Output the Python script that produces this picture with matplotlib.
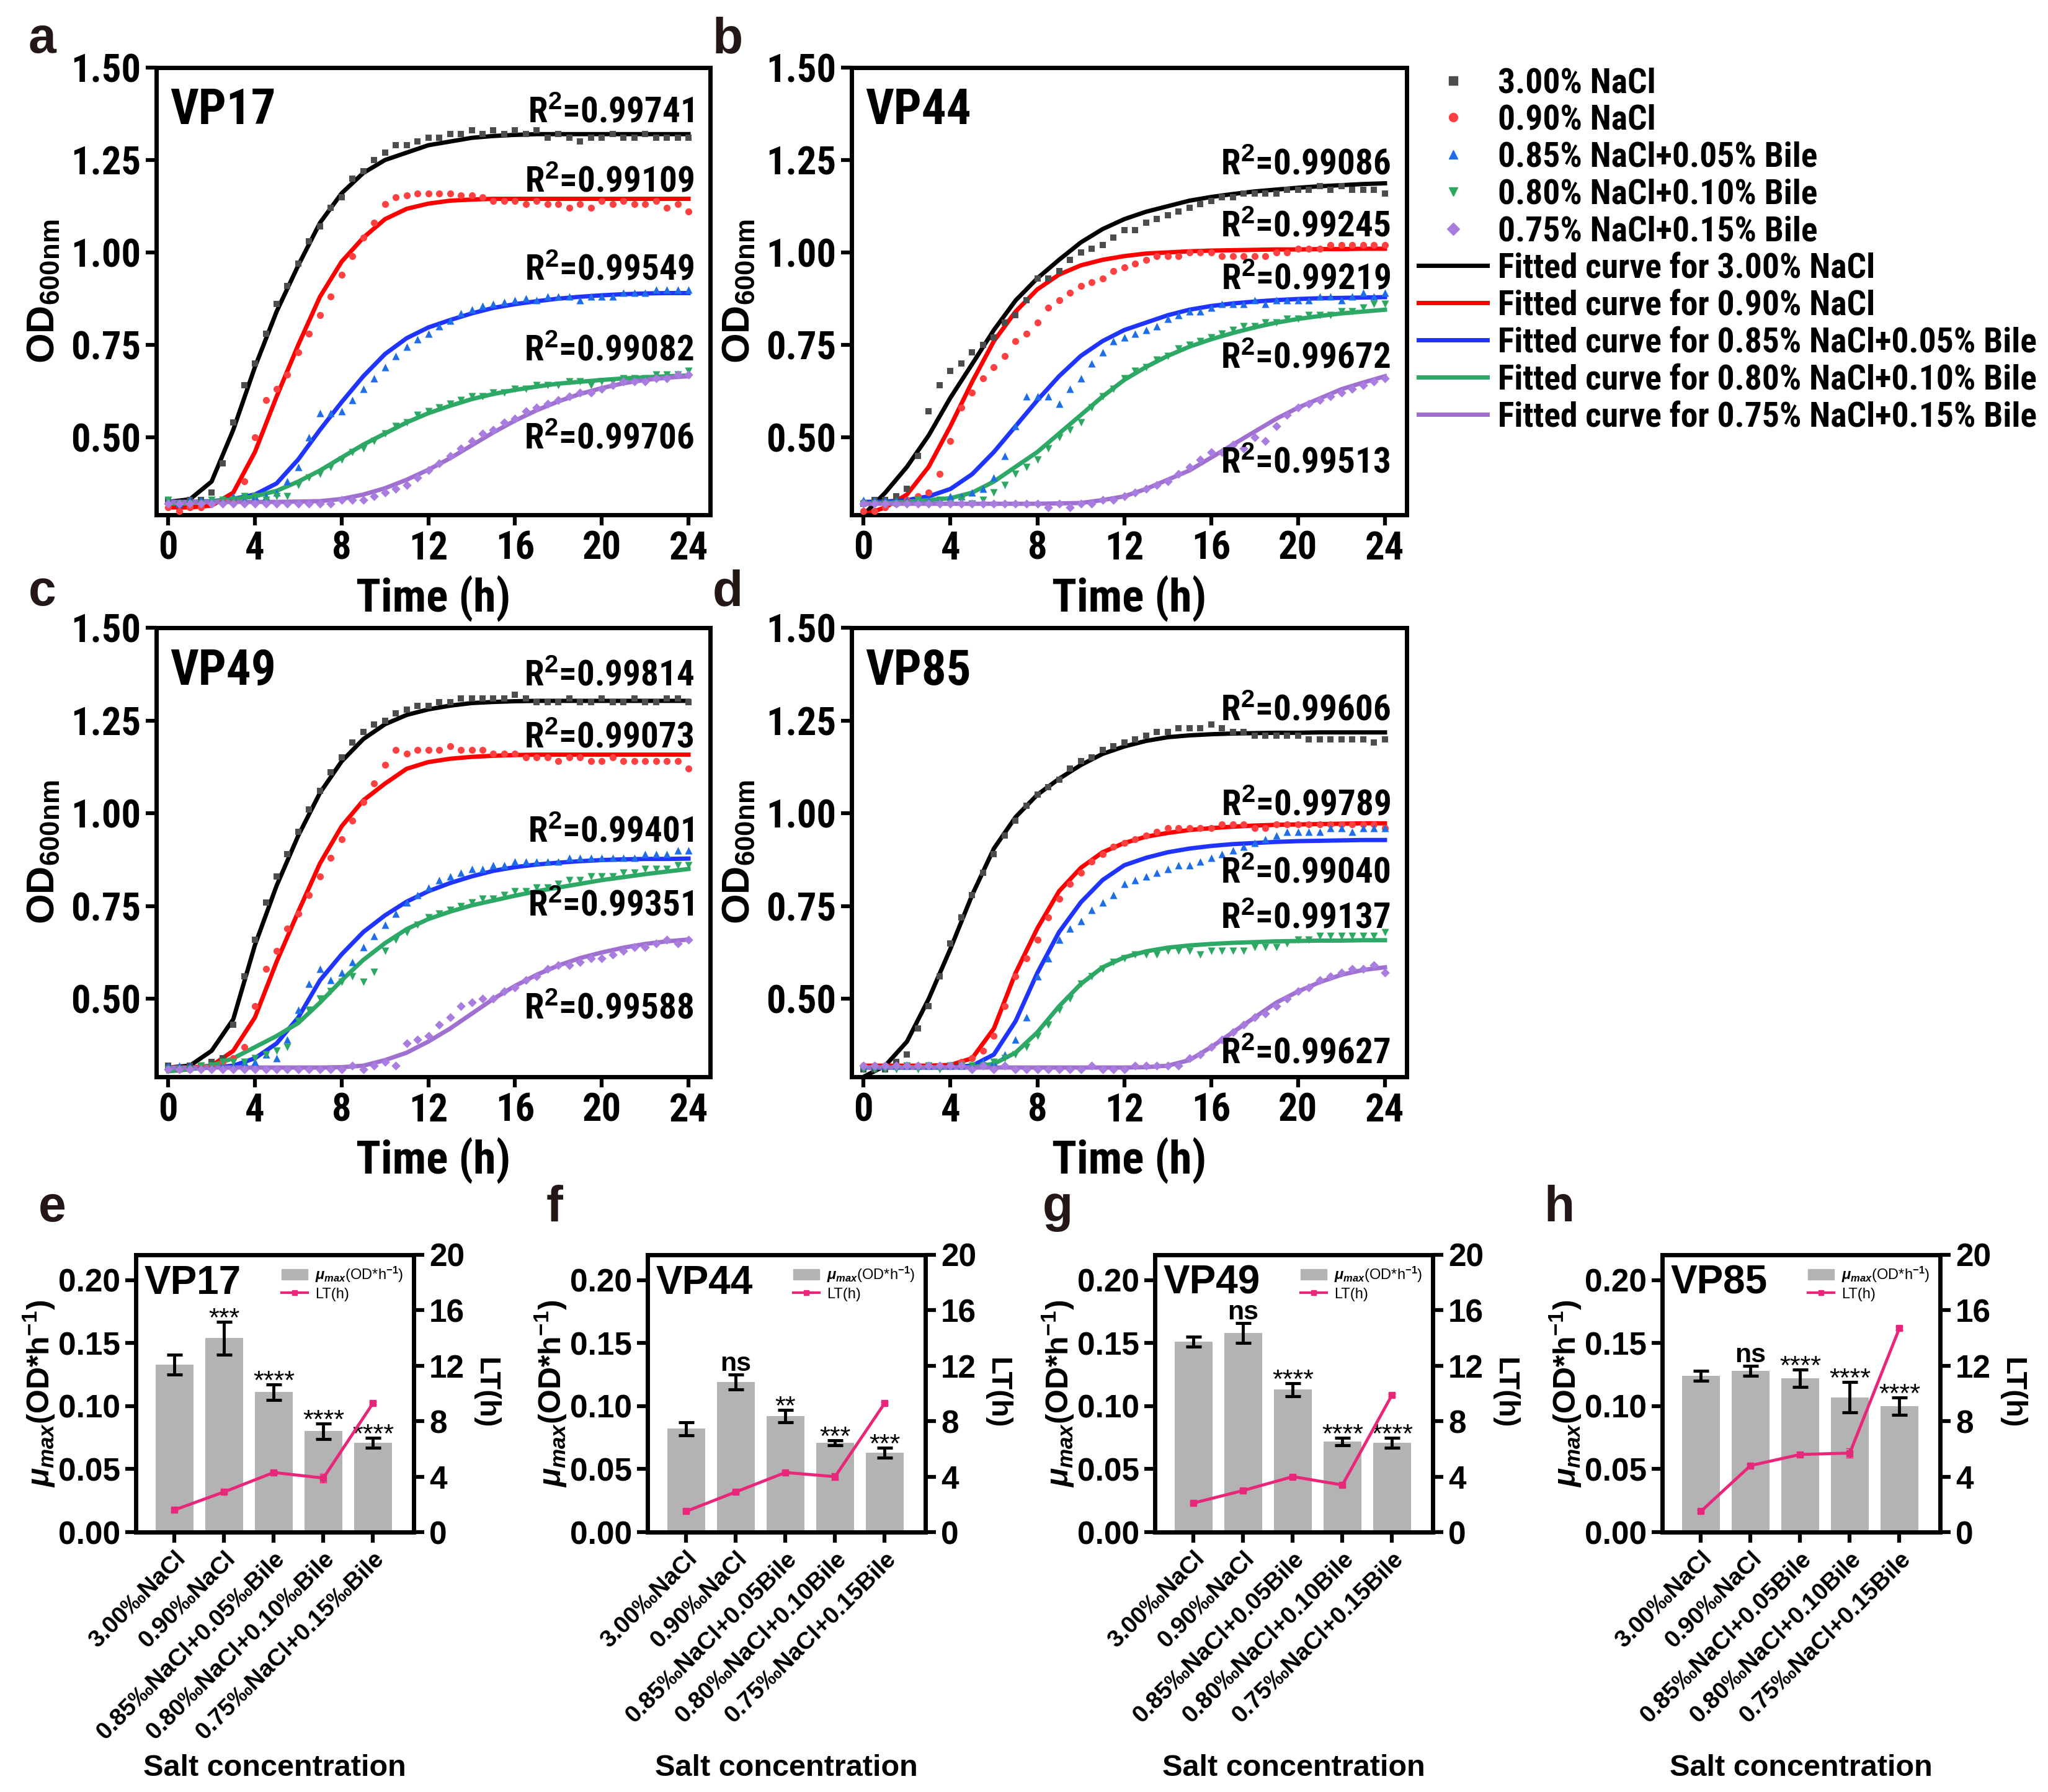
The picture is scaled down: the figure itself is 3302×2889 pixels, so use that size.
import numpy as np
import matplotlib
matplotlib.use('Agg')
import matplotlib.pyplot as plt
from matplotlib import font_manager
from matplotlib.font_manager import FontProperties
from matplotlib.lines import Line2D
from matplotlib.patches import Patch

# ---------------- growth curves (OD600) ----------------
t_fit = list(range(25))               # fitted curves, every hour
t_obs = np.arange(0, 24.5, 0.5)       # measured points, every 30 min

# VP17
vp17_fit_300 = [0.325, 0.332, 0.38, 0.52, 0.69, 0.84, 0.965, 1.08, 1.16, 1.215,
                1.25, 1.27, 1.29, 1.30, 1.31, 1.315, 1.318, 1.32, 1.32, 1.32,
                1.32, 1.32, 1.32, 1.32, 1.32]
vp17_fit_090 = [0.31, 0.31, 0.315, 0.35, 0.46, 0.61, 0.75, 0.88, 0.975, 1.04,
                1.09, 1.118, 1.132, 1.14, 1.143, 1.145, 1.145, 1.145, 1.145, 1.145,
                1.145, 1.145, 1.145, 1.145, 1.145]
vp17_fit_b05 = [0.325, 0.325, 0.327, 0.333, 0.345, 0.375, 0.44, 0.52, 0.595, 0.665,
                0.725, 0.768, 0.797, 0.817, 0.835, 0.85, 0.86, 0.868, 0.875, 0.88,
                0.884, 0.887, 0.889, 0.89, 0.89]
vp17_fit_b10 = [0.32, 0.322, 0.326, 0.332, 0.34, 0.355, 0.38, 0.41, 0.445, 0.48,
                0.51, 0.54, 0.565, 0.585, 0.603, 0.617, 0.628, 0.637, 0.645, 0.65,
                0.655, 0.659, 0.662, 0.665, 0.667]
vp17_fit_b15 = [0.325, 0.325, 0.325, 0.325, 0.325, 0.325, 0.326, 0.327, 0.333, 0.345,
                0.362, 0.385, 0.412, 0.443, 0.478, 0.513, 0.545, 0.573, 0.597, 0.617,
                0.633, 0.646, 0.655, 0.661, 0.665]
vp17_obs_300 = [0.33, 0.32, 0.33, 0.33, 0.35, 0.43, 0.54, 0.64, 0.70, 0.78,
                0.86, 0.91, 0.97, 1.03, 1.07, 1.12, 1.15, 1.20, 1.22, 1.25,
                1.27, 1.29, 1.29, 1.30, 1.31, 1.31, 1.32, 1.32, 1.33, 1.32,
                1.33, 1.32, 1.33, 1.32, 1.33, 1.31, 1.32, 1.31, 1.30, 1.31,
                1.31, 1.32, 1.31, 1.31, 1.32, 1.31, 1.31, 1.31, 1.31]
vp17_obs_090 = [0.31, 0.30, 0.31, 0.31, 0.32, 0.33, 0.33, 0.38, 0.50, 0.60,
                0.63, 0.67, 0.73, 0.78, 0.83, 0.88, 0.94, 0.99, 1.04, 1.08,
                1.13, 1.15, 1.155, 1.16, 1.16, 1.16, 1.16, 1.155, 1.155, 1.15,
                1.14, 1.14, 1.14, 1.13, 1.14, 1.13, 1.13, 1.12, 1.13, 1.12,
                1.14, 1.13, 1.14, 1.13, 1.13, 1.14, 1.12, 1.13, 1.11]
vp17_obs_b05 = [0.33, 0.32, 0.33, 0.33, 0.33, 0.33, 0.34, 0.33, 0.34, 0.34,
                0.35, 0.38, 0.42, 0.50, 0.565, 0.565, 0.57, 0.60, 0.63, 0.66,
                0.69, 0.72, 0.745, 0.765, 0.78, 0.80, 0.815, 0.835, 0.845, 0.855,
                0.86, 0.865, 0.87, 0.875, 0.87, 0.88, 0.88, 0.88, 0.87, 0.88,
                0.88, 0.88, 0.89, 0.89, 0.89, 0.90, 0.90, 0.90, 0.90]
vp17_obs_b10 = [0.33, 0.32, 0.32, 0.32, 0.33, 0.33, 0.33, 0.34, 0.34, 0.33,
                0.34, 0.34, 0.37, 0.39, 0.40, 0.42, 0.44, 0.46, 0.47, 0.49,
                0.51, 0.53, 0.54, 0.56, 0.57, 0.58, 0.59, 0.60, 0.61, 0.61,
                0.62, 0.62, 0.63, 0.63, 0.64, 0.64, 0.64, 0.65, 0.65, 0.64,
                0.65, 0.65, 0.66, 0.66, 0.66, 0.67, 0.67, 0.67, 0.68]
vp17_obs_b15 = [0.32, 0.32, 0.32, 0.32, 0.32, 0.32, 0.32, 0.32, 0.32, 0.32,
                0.32, 0.32, 0.32, 0.32, 0.32, 0.32, 0.33, 0.33, 0.33, 0.34,
                0.35, 0.36, 0.37, 0.39, 0.41, 0.43, 0.45, 0.47, 0.49, 0.51,
                0.52, 0.54, 0.55, 0.57, 0.58, 0.59, 0.60, 0.61, 0.62, 0.62,
                0.63, 0.64, 0.65, 0.65, 0.65, 0.66, 0.66, 0.67, 0.67]

# VP44
vp44_fit_300 = [0.29, 0.35, 0.42, 0.505, 0.607, 0.698, 0.79, 0.87, 0.93, 0.98,
                1.027, 1.063, 1.09, 1.11, 1.125, 1.14, 1.15, 1.158, 1.165, 1.17,
                1.175, 1.179, 1.182, 1.185, 1.187]
vp44_fit_090 = [0.29, 0.31, 0.345, 0.42, 0.53, 0.65, 0.76, 0.84, 0.90, 0.94,
                0.965, 0.98, 0.99, 0.997, 1.0, 1.003, 1.005, 1.006, 1.007, 1.008,
                1.008, 1.009, 1.009, 1.01, 1.01]
vp44_fit_b05 = [0.325, 0.326, 0.33, 0.34, 0.36, 0.40, 0.46, 0.53, 0.60, 0.665,
                0.72, 0.76, 0.79, 0.81, 0.83, 0.845, 0.855, 0.862, 0.867, 0.871,
                0.874, 0.876, 0.877, 0.878, 0.879]
vp44_fit_b10 = [0.32, 0.322, 0.325, 0.33, 0.335, 0.35, 0.38, 0.42, 0.46, 0.51,
                0.56, 0.61, 0.655, 0.69, 0.72, 0.745, 0.765, 0.782, 0.797, 0.81,
                0.82, 0.828, 0.835, 0.84, 0.845]
vp44_fit_b15 = [0.32, 0.32, 0.32, 0.32, 0.32, 0.32, 0.32, 0.32, 0.32, 0.321,
                0.322, 0.33, 0.34, 0.36, 0.385, 0.41, 0.445, 0.48, 0.515, 0.55,
                0.58, 0.605, 0.63, 0.648, 0.665]
vp44_obs_300 = [0.32, 0.33, 0.33, 0.34, 0.36, 0.45, 0.57, 0.64, 0.68, 0.70,
                0.73, 0.75, 0.77, 0.81, 0.83, 0.87, 0.93, 0.93, 0.95, 0.98,
                1.00, 1.01, 1.02, 1.04, 1.06, 1.06, 1.08, 1.09, 1.10, 1.11,
                1.12, 1.13, 1.14, 1.15, 1.15, 1.16, 1.16, 1.16, 1.16, 1.17,
                1.17, 1.17, 1.18, 1.17, 1.18, 1.17, 1.17, 1.17, 1.16]
vp44_obs_090 = [0.30, 0.30, 0.31, 0.32, 0.33, 0.34, 0.35, 0.40, 0.49, 0.58,
                0.62, 0.66, 0.69, 0.72, 0.76, 0.78, 0.81, 0.85, 0.87, 0.89,
                0.91, 0.92, 0.93, 0.95, 0.96, 0.97, 0.98, 0.99, 0.99, 0.99,
                1.00, 1.00, 1.00, 0.99, 0.99, 0.99, 0.99, 0.99, 1.00, 1.00,
                1.01, 1.01, 1.01, 1.02, 1.02, 1.02, 1.02, 1.02, 1.02]
vp44_obs_b05 = [0.33, 0.33, 0.33, 0.33, 0.33, 0.33, 0.33, 0.33, 0.34, 0.34,
                0.35, 0.36, 0.39, 0.45, 0.53, 0.61, 0.61, 0.61, 0.59, 0.63,
                0.66, 0.70, 0.73, 0.76, 0.77, 0.78, 0.79, 0.80, 0.82, 0.83,
                0.84, 0.84, 0.85, 0.86, 0.86, 0.86, 0.87, 0.86, 0.87, 0.87,
                0.87, 0.87, 0.88, 0.88, 0.87, 0.88, 0.89, 0.88, 0.89]
vp44_obs_b10 = [0.32, 0.32, 0.32, 0.32, 0.32, 0.33, 0.32, 0.33, 0.32, 0.33,
                0.32, 0.33, 0.35, 0.37, 0.40, 0.42, 0.44, 0.47, 0.50, 0.52,
                0.54, 0.58, 0.61, 0.63, 0.66, 0.68, 0.69, 0.71, 0.72, 0.74,
                0.75, 0.76, 0.77, 0.78, 0.79, 0.80, 0.80, 0.81, 0.81, 0.82,
                0.82, 0.83, 0.83, 0.83, 0.84, 0.84, 0.85, 0.86, 0.86]
vp44_obs_b15 = [0.32, 0.32, 0.32, 0.32, 0.32, 0.32, 0.32, 0.32, 0.32, 0.32,
                0.32, 0.32, 0.32, 0.32, 0.32, 0.32, 0.32, 0.31, 0.32, 0.31,
                0.32, 0.32, 0.33, 0.33, 0.34, 0.35, 0.36, 0.37, 0.38, 0.40,
                0.42, 0.44, 0.46, 0.46, 0.48, 0.47, 0.50, 0.49, 0.53, 0.56,
                0.58, 0.59, 0.60, 0.61, 0.62, 0.63, 0.64, 0.65, 0.66]

# VP49
vp49_fit_300 = [0.315, 0.32, 0.36, 0.445, 0.645, 0.805, 0.94, 1.055, 1.14, 1.20,
                1.24, 1.265, 1.28, 1.29, 1.297, 1.30, 1.302, 1.303, 1.303, 1.303,
                1.303, 1.303, 1.303, 1.303, 1.303]
vp49_fit_090 = [0.315, 0.315, 0.32, 0.36, 0.45, 0.60, 0.735, 0.865, 0.965, 1.035,
                1.08, 1.12, 1.138, 1.147, 1.152, 1.155, 1.157, 1.158, 1.158, 1.158,
                1.158, 1.158, 1.158, 1.158, 1.158]
vp49_fit_b05 = [0.31, 0.312, 0.315, 0.32, 0.34, 0.38, 0.45, 0.55, 0.62, 0.68,
                0.725, 0.762, 0.79, 0.812, 0.83, 0.845, 0.855, 0.862, 0.867, 0.871,
                0.874, 0.876, 0.877, 0.877, 0.878]
vp49_fit_b10 = [0.305, 0.31, 0.32, 0.34, 0.37, 0.40, 0.435, 0.49, 0.55, 0.605,
                0.65, 0.688, 0.715, 0.735, 0.752, 0.765, 0.778, 0.79, 0.80, 0.81,
                0.82, 0.828, 0.836, 0.843, 0.85]
vp49_fit_b15 = [0.315, 0.315, 0.315, 0.315, 0.315, 0.315, 0.315, 0.315, 0.316, 0.32,
                0.335, 0.355, 0.385, 0.42, 0.46, 0.50, 0.535, 0.565, 0.59, 0.61,
                0.625, 0.638, 0.648, 0.655, 0.66]
vp49_obs_300 = [0.32, 0.31, 0.32, 0.32, 0.33, 0.34, 0.43, 0.56, 0.66, 0.76,
                0.83, 0.89, 0.95, 1.01, 1.06, 1.11, 1.15, 1.19, 1.22, 1.24,
                1.25, 1.27, 1.28, 1.29, 1.29, 1.30, 1.30, 1.31, 1.31, 1.31,
                1.31, 1.31, 1.32, 1.31, 1.30, 1.30, 1.30, 1.31, 1.30, 1.30,
                1.31, 1.30, 1.30, 1.31, 1.30, 1.30, 1.31, 1.31, 1.30]
vp49_obs_090 = [0.31, 0.31, 0.31, 0.32, 0.32, 0.33, 0.34, 0.37, 0.48, 0.58,
                0.63, 0.69, 0.73, 0.78, 0.83, 0.88, 0.93, 0.98, 1.03, 1.08,
                1.13, 1.17, 1.16, 1.17, 1.17, 1.17, 1.18, 1.17, 1.17, 1.17,
                1.16, 1.16, 1.16, 1.15, 1.15, 1.15, 1.14, 1.15, 1.15, 1.14,
                1.14, 1.15, 1.14, 1.14, 1.14, 1.14, 1.14, 1.14, 1.12]
vp49_obs_b05 = [0.32, 0.32, 0.32, 0.32, 0.32, 0.32, 0.32, 0.33, 0.33, 0.35,
                0.34, 0.39, 0.47, 0.54, 0.58, 0.55, 0.57, 0.60, 0.64, 0.67,
                0.70, 0.73, 0.76, 0.78, 0.80, 0.82, 0.83, 0.84, 0.85, 0.85,
                0.86, 0.86, 0.87, 0.87, 0.87, 0.87, 0.87, 0.88, 0.88, 0.88,
                0.88, 0.88, 0.88, 0.88, 0.89, 0.89, 0.89, 0.90, 0.90]
vp49_obs_b10 = [0.31, 0.31, 0.31, 0.32, 0.32, 0.33, 0.33, 0.33, 0.34, 0.35,
                0.36, 0.37, 0.44, 0.47, 0.50, 0.52, 0.545, 0.56, 0.545, 0.573,
                0.63, 0.66, 0.68, 0.70, 0.72, 0.73, 0.74, 0.75, 0.76, 0.77,
                0.77, 0.78, 0.79, 0.79, 0.80, 0.80, 0.81, 0.82, 0.82, 0.83,
                0.83, 0.83, 0.84, 0.84, 0.85, 0.85, 0.85, 0.86, 0.86]
vp49_obs_b15 = [0.31, 0.31, 0.31, 0.31, 0.31, 0.31, 0.31, 0.31, 0.31, 0.31,
                0.31, 0.31, 0.31, 0.31, 0.31, 0.31, 0.31, 0.32, 0.31, 0.32,
                0.33, 0.32, 0.38, 0.39, 0.40, 0.43, 0.45, 0.48, 0.49, 0.50,
                0.50, 0.52, 0.53, 0.55, 0.56, 0.58, 0.59, 0.59, 0.60, 0.61,
                0.61, 0.62, 0.63, 0.64, 0.64, 0.65, 0.66, 0.65, 0.66]

# VP85
vp85_fit_300 = [0.29, 0.32, 0.385, 0.50, 0.635, 0.78, 0.905, 0.99, 1.05, 1.093,
                1.13, 1.16, 1.18, 1.195, 1.205, 1.21, 1.213, 1.215, 1.216, 1.217,
                1.217, 1.218, 1.218, 1.218, 1.218]
vp85_fit_090 = [0.32, 0.32, 0.32, 0.32, 0.322, 0.34, 0.42, 0.57, 0.69, 0.79,
                0.853, 0.895, 0.92, 0.937, 0.947, 0.955, 0.96, 0.964, 0.967, 0.969,
                0.97, 0.971, 0.972, 0.973, 0.973]
vp85_fit_b05 = [0.315, 0.315, 0.315, 0.315, 0.316, 0.32, 0.35, 0.44, 0.57, 0.68,
                0.76, 0.82, 0.86, 0.88, 0.895, 0.905, 0.912, 0.917, 0.92, 0.923,
                0.925, 0.926, 0.927, 0.928, 0.928]
vp85_fit_b10 = [0.315, 0.315, 0.315, 0.315, 0.315, 0.316, 0.325, 0.355, 0.41, 0.48,
                0.54, 0.585, 0.612, 0.628, 0.638, 0.644, 0.648, 0.651, 0.653, 0.655,
                0.656, 0.657, 0.657, 0.658, 0.658]
vp85_fit_b15 = [0.315, 0.315, 0.315, 0.315, 0.315, 0.315, 0.315, 0.315, 0.315, 0.315,
                0.315, 0.315, 0.315, 0.316, 0.32, 0.335, 0.37, 0.41, 0.45, 0.49,
                0.52, 0.545, 0.565, 0.578, 0.585]
vp85_obs_300 = [0.31, 0.31, 0.31, 0.33, 0.35, 0.42, 0.48, 0.56, 0.65, 0.72,
                0.78, 0.84, 0.89, 0.94, 0.98, 1.02, 1.05, 1.07, 1.09, 1.12,
                1.14, 1.15, 1.17, 1.18, 1.19, 1.20, 1.21, 1.22, 1.22, 1.23,
                1.23, 1.23, 1.24, 1.23, 1.22, 1.22, 1.21, 1.21, 1.21, 1.21,
                1.21, 1.20, 1.20, 1.20, 1.20, 1.20, 1.20, 1.19, 1.20]
vp85_obs_090 = [0.32, 0.32, 0.32, 0.32, 0.32, 0.32, 0.32, 0.32, 0.32, 0.33,
                0.34, 0.36, 0.40, 0.48, 0.56, 0.61, 0.66, 0.72, 0.77, 0.81,
                0.84, 0.87, 0.89, 0.91, 0.92, 0.93, 0.94, 0.95, 0.96, 0.96,
                0.96, 0.96, 0.96, 0.97, 0.97, 0.97, 0.96, 0.96, 0.97, 0.97,
                0.97, 0.97, 0.97, 0.97, 0.97, 0.97, 0.97, 0.97, 0.96]
vp85_obs_b05 = [0.32, 0.32, 0.32, 0.32, 0.32, 0.32, 0.32, 0.32, 0.32, 0.32,
                0.32, 0.33, 0.33, 0.35, 0.39, 0.45, 0.56, 0.61, 0.66, 0.69,
                0.71, 0.74, 0.76, 0.78, 0.81, 0.82, 0.83, 0.84, 0.85, 0.86,
                0.86, 0.87, 0.88, 0.89, 0.90, 0.91, 0.92, 0.93, 0.94, 0.95,
                0.95, 0.95, 0.95, 0.96, 0.96, 0.95, 0.96, 0.96, 0.96]
vp85_obs_b10 = [0.31, 0.31, 0.31, 0.31, 0.32, 0.31, 0.32, 0.31, 0.32, 0.32,
                0.32, 0.32, 0.33, 0.34, 0.35, 0.37, 0.40, 0.43, 0.47, 0.50,
                0.54, 0.56, 0.58, 0.60, 0.61, 0.62, 0.62, 0.62, 0.63, 0.63,
                0.63, 0.62, 0.63, 0.63, 0.63, 0.63, 0.64, 0.64, 0.64, 0.65,
                0.66, 0.66, 0.67, 0.67, 0.67, 0.67, 0.67, 0.67, 0.68]
vp85_obs_b15 = [0.32, 0.32, 0.32, 0.32, 0.32, 0.32, 0.32, 0.32, 0.32, 0.32,
                0.31, 0.32, 0.31, 0.32, 0.31, 0.31, 0.31, 0.31, 0.31, 0.31,
                0.31, 0.32, 0.31, 0.31, 0.31, 0.32, 0.32, 0.32, 0.32, 0.32,
                0.34, 0.35, 0.37, 0.39, 0.41, 0.43, 0.45, 0.46, 0.48, 0.50,
                0.52, 0.53, 0.55, 0.56, 0.57, 0.58, 0.58, 0.59, 0.57]

r2_vp17 = ['0.99741', '0.99109', '0.99549', '0.99082', '0.99706']
r2_vp44 = ['0.99086', '0.99245', '0.99219', '0.99672', '0.99513']
r2_vp49 = ['0.99814', '0.99073', '0.99401', '0.99351', '0.99588']
r2_vp85 = ['0.99606', '0.99789', '0.99040', '0.99137', '0.99627']

conditions = ['3.00% NaCl', '0.90% NaCl', '0.85% NaCl+0.05% Bile',
              '0.80% NaCl+0.10% Bile', '0.75% NaCl+0.15% Bile']

# ---------------- growth parameters (bars) ----------------
cats_e = ['3.00‰NaCl', '0.90‰NaCl', '0.85‰NaCl+0.05‰Bile',
          '0.80‰NaCl+0.10‰Bile', '0.75‰NaCl+0.15‰Bile']
cats_fgh = ['3.00‰NaCl', '0.90‰NaCl', '0.85‰NaCl+0.05Bile',
            '0.80‰NaCl+0.10Bile', '0.75‰NaCl+0.15Bile']

mu_vp17 = [0.133, 0.154, 0.111, 0.080, 0.071]
mu_err_vp17 = [0.008, 0.013, 0.006, 0.006, 0.004]
lt_vp17 = [1.6, 2.9, 4.3, 3.9, 9.3]
lt_err_vp17 = [0.1, 0.1, 0.15, 0.3, 0.1]
sig_vp17 = ['', '***', '****', '****', '****']

mu_vp44 = [0.082, 0.119, 0.092, 0.071, 0.063]
mu_err_vp44 = [0.005, 0.006, 0.005, 0.002, 0.004]
lt_vp44 = [1.5, 2.9, 4.3, 4.0, 9.3]
lt_err_vp44 = [0.05, 0.1, 0.1, 0.25, 0.1]
sig_vp44 = ['', 'ns', '**', '***', '***']

mu_vp49 = [0.151, 0.158, 0.113, 0.072, 0.071]
mu_err_vp49 = [0.004, 0.008, 0.005, 0.003, 0.004]
lt_vp49 = [2.1, 3.0, 4.0, 3.4, 9.9]
lt_err_vp49 = [0.1, 0.1, 0.1, 0.1, 0.1]
sig_vp49 = ['', 'ns', '****', '****', '****']

mu_vp85 = [0.124, 0.128, 0.122, 0.107, 0.100]
mu_err_vp85 = [0.004, 0.004, 0.007, 0.012, 0.007]
lt_vp85 = [1.5, 4.8, 5.6, 5.7, 14.7]
lt_err_vp85 = [0.1, 0.1, 0.15, 0.35, 0.1]
sig_vp85 = ['', 'ns', '****', '****', '****']


# ---------------- fonts ----------------
def find_condensed_bold():
    pref = ['Liberation Sans Narrow', 'Arial Narrow', 'Roboto Condensed',
            'Open Sans Condensed', 'DejaVu Sans', 'Noto Sans', 'Open Sans', 'Roboto']
    stretch_rank = {'condensed': 0, 'semi-condensed': 1, 'extra-condensed': 2}
    best = None
    for f in font_manager.fontManager.ttflist:
        w = f.weight
        if isinstance(w, str):
            w = {'bold': 700, 'heavy': 800, 'black': 900, 'semibold': 600,
                 'demibold': 600, 'extra bold': 800}.get(w, 400)
        low = (f.name + ' ' + f.fname).lower()
        cond = 'condensed' in str(f.stretch) or 'narrow' in low or 'condensed' in low or 'cond' in f.fname.lower()
        if w < 600 or not cond or f.style != 'normal' or 'mono' in low:
            continue
        rank = next((i for i, p in enumerate(pref) if f.name.startswith(p)), len(pref))
        key = (rank, stretch_rank.get(str(f.stretch), 1), abs(w - 700))
        if best is None or key < best[0]:
            best = (key, f.fname)
    return best[1] if best else None


cond_path = find_condensed_bold()
if cond_path:
    def narrow(size):
        return FontProperties(fname=cond_path, size=size)
    ns = 1.0
else:
    def narrow(size):
        return FontProperties(family='Liberation Sans', weight='bold', size=size)
    ns = 0.84

plt.rcParams['font.family'] = ['Liberation Sans', 'DejaVu Sans']
plt.rcParams['font.weight'] = 'bold'
plt.rcParams['mathtext.fontset'] = 'custom'
plt.rcParams['mathtext.rm'] = 'Liberation Sans:bold'
plt.rcParams['mathtext.bf'] = 'Liberation Sans:bold'
plt.rcParams['mathtext.it'] = 'Liberation Sans:italic:bold'

pt_colors = ['#4d4d4d', '#ff4040', '#1f6ee8', '#2da862', '#a97ddf']
line_colors = ['#000000', '#ff0000', '#1f35ff', '#2ea866', '#a070d0']
markers = ['s', 'o', '^', 'v', 'D']
msizes = [60, 65, 75, 75, 55]
bar_gray = '#b3b3b3'
pink = '#e8267a'
letter_color = '#231815'

W, H = 3302, 2889
fig = plt.figure(figsize=(W / 100, H / 100), dpi=100)


def add_px_axes(left, top, right, bottom):
    return fig.add_axes([left / W, 1 - bottom / H, (right - left) / W, (bottom - top) / H])


def style_spines(ax, lw):
    for sp in ax.spines.values():
        sp.set_linewidth(lw)


growth = [
    ('VP17', [vp17_fit_300, vp17_fit_090, vp17_fit_b05, vp17_fit_b10, vp17_fit_b15],
     [vp17_obs_300, vp17_obs_090, vp17_obs_b05, vp17_obs_b10, vp17_obs_b15], r2_vp17),
    ('VP44', [vp44_fit_300, vp44_fit_090, vp44_fit_b05, vp44_fit_b10, vp44_fit_b15],
     [vp44_obs_300, vp44_obs_090, vp44_obs_b05, vp44_obs_b10, vp44_obs_b15], r2_vp44),
    ('VP49', [vp49_fit_300, vp49_fit_090, vp49_fit_b05, vp49_fit_b10, vp49_fit_b15],
     [vp49_obs_300, vp49_obs_090, vp49_obs_b05, vp49_obs_b10, vp49_obs_b15], r2_vp49),
    ('VP85', [vp85_fit_300, vp85_fit_090, vp85_fit_b05, vp85_fit_b10, vp85_fit_b15],
     [vp85_obs_300, vp85_obs_090, vp85_obs_b05, vp85_obs_b10, vp85_obs_b15], r2_vp85),
]
top_boxes = [(252, 109, 1145, 830), (1373, 109, 2268, 830),
             (252, 1012, 1145, 1736), (1373, 1012, 2268, 1736)]
r2_y = [[1.378, 1.19, 0.952, 0.733, 0.495],
        [1.236, 1.069, 0.926, 0.713, 0.429],
        [1.37, 1.2025, 0.948, 0.75, 0.472],
        [1.276, 1.02, 0.838, 0.717, 0.352]]

for (strain, fits, obs, r2), box, ys in zip(growth, top_boxes, r2_y):
    ax = add_px_axes(*box)
    for k in range(5):
        ax.plot(t_fit, fits[k], color=line_colors[k], lw=5, zorder=2)
        ax.scatter(t_obs, obs[k], marker=markers[k], s=msizes[k], color=pt_colors[k],
                   linewidths=0, zorder=3)
    ax.set_xlim(-0.55, 25.0)
    ax.set_ylim(0.29, 1.5)
    ax.set_xticks(range(0, 25, 4))
    ax.set_xticklabels([str(v) for v in range(0, 25, 4)], fontproperties=narrow(45 * ns))
    yt = [0.5, 0.75, 1.0, 1.25, 1.5]
    ax.set_yticks(yt)
    ax.set_yticklabels(['%.2f' % v for v in yt], fontproperties=narrow(45 * ns))
    ax.tick_params(direction='out', length=12, width=4.5, pad=6)
    style_spines(ax, 5)
    ax.set_xlabel('Time (h)', fontproperties=narrow(53 * ns), labelpad=9)
    ax.set_ylabel(r'OD$_{\mathbf{600nm}}$', fontsize=45, weight='bold', labelpad=10)
    ax.text(0.025, 0.955, strain, transform=ax.transAxes, ha='left', va='top',
            fontproperties=narrow(57 * ns))
    for k in range(5):
        ax.text(24.25, ys[k], r'R$^{\mathbf{2}}$=' + r2[k], ha='right', va='center',
                fontproperties=narrow(41 * ns), zorder=5)

# shared legend for the growth curves
handles = [Line2D([], [], ls='none', marker=markers[k], color=pt_colors[k], markersize=10)
           for k in range(5)]
handles += [Line2D([], [], color=line_colors[k], lw=5) for k in range(5)]
labels = conditions + ['Fitted curve for ' + c for c in conditions]
fig.legend(handles, labels, loc='upper left', bbox_to_anchor=(2287 / W, 1 - 108 / H),
           frameon=False, prop=narrow(40 * ns),
           handlelength=2.0, handletextpad=0.3, labelspacing=0.14,
           borderpad=0, borderaxespad=0)

# ---------------- bar panels ----------------
bars = [
    ('VP17', cats_e, mu_vp17, mu_err_vp17, lt_vp17, lt_err_vp17, sig_vp17),
    ('VP44', cats_fgh, mu_vp44, mu_err_vp44, lt_vp44, lt_err_vp44, sig_vp44),
    ('VP49', cats_fgh, mu_vp49, mu_err_vp49, lt_vp49, lt_err_vp49, sig_vp49),
    ('VP85', cats_fgh, mu_vp85, mu_err_vp85, lt_vp85, lt_err_vp85, sig_vp85),
]
bar_lefts = [219, 1044, 1862, 2680]

for (strain, cats, mu, mu_err, lt, lt_err, sig), left in zip(bars, bar_lefts):
    ax = add_px_axes(left, 2023, left + 448, 2470)
    x = np.arange(len(cats))
    ax.bar(x, mu, width=0.76, color=bar_gray, zorder=1)
    ax.errorbar(x, mu, yerr=mu_err, fmt='none', ecolor='black', elinewidth=3.5,
                capsize=9, capthick=3.5, zorder=2)
    for i in range(len(x)):
        if sig[i]:
            off = -0.0035 if '*' in sig[i] else 0.003
            ax.text(x[i], mu[i] + mu_err[i] + off, sig[i], ha='center', va='baseline',
                    fontsize=31, weight='bold' if sig[i] == 'ns' else 'normal', zorder=4)
    ax.set_xlim(-0.78, 4.82)
    ax.set_ylim(0, 0.22)
    yt = [0, 0.05, 0.10, 0.15, 0.20]
    ax.set_yticks(yt)
    ax.set_yticklabels(['%.2f' % v for v in yt], fontsize=37, weight='bold')
    ax.set_xticks(x)
    ax.set_xticklabels(cats, rotation=45, ha='right', rotation_mode='anchor',
                       fontsize=28, weight='bold')
    ax.tick_params(direction='out', length=12, width=4.5, pad=6)
    style_spines(ax, 4.8)
    ax.set_xlabel('Salt concentration', fontsize=35, weight='bold')
    ax.xaxis.set_label_coords(0.5, -0.80)
    ax.set_ylabel(r'$\mathit{\mu_{max}}$(OD*h$^{\mathbf{-1}}$)', fontsize=36, weight='bold',
                  labelpad=1)
    ax.text(0.03, 0.965, strain, transform=ax.transAxes, ha='left', va='top',
            fontsize=46, weight='bold', zorder=5)

    ax2 = ax.twinx()
    ax2.errorbar(x, lt, yerr=lt_err, color=pink, marker='s', markersize=7, lw=3.5,
                 elinewidth=2.5, capsize=4, zorder=3)
    ax2.set_ylim(0, 20)
    rt = [0, 4, 8, 12, 16, 20]
    ax2.set_yticks(rt)
    ax2.set_yticklabels([str(v) for v in rt], fontsize=37, weight='bold')
    ax2.tick_params(direction='out', length=12, width=4.5, pad=6)
    style_spines(ax2, 4.8)
    ax2.set_ylabel('LT(h)', rotation=270, fontsize=34, weight='bold', labelpad=40)
    leg_handles = [Patch(color=bar_gray),
                   Line2D([], [], color=pink, marker='s', markersize=6, lw=3)]
    ax2.legend(leg_handles, [r'$\mathit{\mu_{max}}$(OD*h$^{-1}$)', 'LT(h)'],
               loc='upper right', frameon=False, prop={'size': 17, 'weight': 'normal'},
               handlelength=1.8, handletextpad=0.5, labelspacing=0.25,
               borderaxespad=0.3)

# panel letters
letters = [('a', 46, 85), ('b', 1149, 85), ('c', 46, 976), ('d', 1149, 976),
           ('e', 62, 1969), ('f', 881, 1969), ('g', 1681, 1969), ('h', 2489, 1969)]
for ch, lx, ly in letters:
    fig.text(lx / W, 1 - ly / H, ch, ha='left', va='baseline', fontsize=58,
             weight='bold', color=letter_color)

fig.savefig('out.png', dpi=100, facecolor='white')
